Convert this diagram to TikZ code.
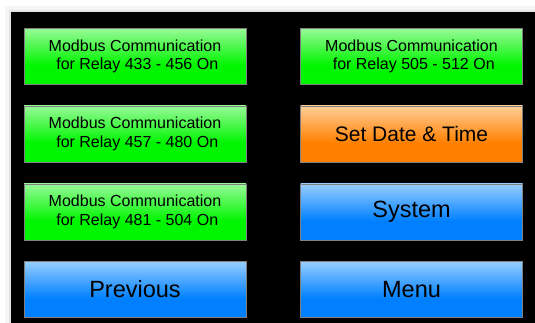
\documentclass[tikz,border=0pt]{standalone}
\usepackage{fontspec}
\setmainfont{Liberation Sans}
\definecolor{btnGreen}{RGB}{0,245,0}
\definecolor{btnGreenTop}{RGB}{150,250,150}
\definecolor{btnOrange}{RGB}{255,128,0}
\definecolor{btnOrangeTop}{RGB}{255,205,150}
\definecolor{btnBlue}{RGB}{0,128,255}
\definecolor{btnBlueTop}{RGB}{150,205,255}
\pgfdeclareverticalshading{greenbtn}{100bp}{color(0bp)=(btnGreen); color(42bp)=(btnGreen); color(75bp)=(btnGreenTop); color(100bp)=(btnGreenTop)}
\pgfdeclareverticalshading{orangebtn}{100bp}{color(0bp)=(btnOrange); color(42bp)=(btnOrange); color(75bp)=(btnOrangeTop); color(100bp)=(btnOrangeTop)}
\pgfdeclareverticalshading{bluebtn}{100bp}{color(0bp)=(btnBlue); color(42bp)=(btnBlue); color(75bp)=(btnBlueTop); color(100bp)=(btnBlueTop)}
\tikzset{
  btn/.style={draw=gray,line width=0.9pt,minimum width=222pt,minimum height=56pt,inner sep=0pt,align=center},
  relaybtn/.style={btn,shading=greenbtn,font=\fontsize{16}{18.5}\selectfont},
  datebtn/.style={btn,shading=orangebtn,font=\fontsize{21}{24}\selectfont},
  navbtn/.style={btn,shading=bluebtn,font=\fontsize{23.5}{26}\selectfont}
}
\begin{document}
\begin{tikzpicture}[x=1pt,y=-1pt]
			\useasboundingbox (0,0) rectangle (535,323);
			\fill [gray!8] (5,6) rectangle (535,323);
			\fill [gray!22] (9,10) rectangle (535,323);
			\fill [black] (11,12) rectangle (535,323);
			\node [relaybtn] (relayA) at (135,56.5) {Modbus Communication\\\hspace*{0.28em}for Relay 433 - 456 On};
			\node [relaybtn] (relayB) at (135,134) {Modbus Communication\\\hspace*{0.28em}for Relay 457 - 480 On};
			\node [relaybtn] (relayC) at (135,212) {Modbus Communication\\\hspace*{0.28em}for Relay 481 - 504 On};
			\node [navbtn] (previous) at (135,289.5) {Previous};
			\node [relaybtn] (relayD) at (411.5,56.5) {Modbus Communication\\\hspace*{0.28em}for Relay 505 - 512 On};
			\node [datebtn] (dateTime) at (411.5,134) {Set Date \& Time};
			\node [navbtn] (system) at (411.5,212) {System};
			\node [navbtn] (menu) at (411.5,289.5) {Menu};
		\end{tikzpicture}
\end{document}
